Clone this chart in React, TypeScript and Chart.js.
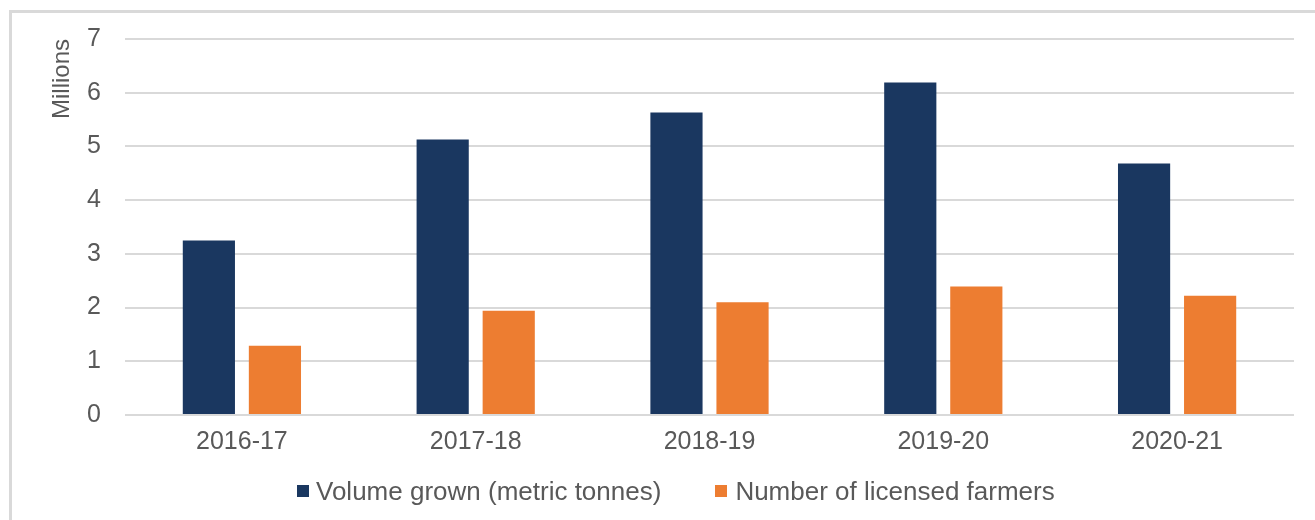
import React, { useEffect, useRef } from "react";
import { Chart, registerables } from "chart.js";

Chart.register(...registerables);

const categories = ["2016-17", "2017-18", "2018-19", "2019-20", "2020-21"];
const volumeGrown = [3.25, 5.13, 5.63, 6.19, 4.68];
const licensedFarmers = [1.29, 1.94, 2.1, 2.39, 2.22];
const seriesNames = ["Volume grown (metric tonnes)", "Number of licensed farmers"];
const seriesColors = ["#1A3760", "#ED7D31"];
const yTitle = "Millions";

const FONT = "'Liberation Sans', Arial, sans-serif";
const TEXT = "#595959";

export default function App() {
  const ref = useRef<HTMLCanvasElement | null>(null);

  useEffect(() => {
    if (!ref.current) return;
    const chart = new Chart(ref.current, {
      type: "bar",
      data: {
        labels: categories,
        datasets: [
          { label: seriesNames[0], data: volumeGrown, backgroundColor: seriesColors[0] },
          { label: seriesNames[1], data: licensedFarmers, backgroundColor: seriesColors[1] },
        ],
      },
      options: {
        animation: false,
        responsive: true,
        maintainAspectRatio: false,
        layout: { padding: { left: 43, top: 39, right: 21, bottom: 63 } },
        datasets: { bar: { categoryPercentage: 0.565, barPercentage: 0.79 } },
        plugins: {
          legend: { display: false },
          tooltip: { enabled: false },
        },
        scales: {
          x: {
            grid: { display: false, drawTicks: false },
            border: { display: false },
            ticks: { color: TEXT, padding: 12, font: { family: FONT, size: 25, lineHeight: 1.2 } },
            afterFit: (scale: any) => {
              scale.height = 42;
            },
          },
          y: {
            min: 0,
            max: 7,
            grid: { color: "#D9D9D9", lineWidth: 2, drawTicks: false },
            border: { display: false },
            ticks: { stepSize: 1, color: TEXT, padding: 24, font: { family: FONT, size: 25 } },
            title: {
              display: true,
              text: yTitle,
              align: "end",
              color: TEXT,
              padding: { top: 4, bottom: 10 },
              font: { family: FONT, size: 24, lineHeight: 1.25 },
            },
            afterFit: (scale: any) => {
              scale.width = 82;
            },
          },
        },
      },
    });
    return () => chart.destroy();
  }, []);

  const legendText: React.CSSProperties = {
    fontFamily: FONT,
    fontSize: 26,
    color: TEXT,
    lineHeight: "30px",
    whiteSpace: "nowrap",
  };
  const box = (c: string): React.CSSProperties => ({
    width: 12,
    height: 12,
    background: c,
    display: "inline-block",
  });

  return (
    <>
      <div
        style={{
          position: "fixed",
          left: 9,
          top: 10,
          width: 1330,
          height: 540,
          border: "3px solid #D9D9D9",
          boxSizing: "border-box",
        }}
      />
      <div style={{ position: "fixed", left: 0, top: 0, width: 1315, height: 520 }}>
        <canvas ref={ref} />
      </div>
      <div
        style={{
          position: "fixed",
          left: 297,
          top: 476,
          display: "flex",
          alignItems: "center",
        }}
      >
        <span style={box(seriesColors[0])} />
        <span style={{ ...legendText, marginLeft: 7 }}>{seriesNames[0]}</span>
        <span style={{ ...box(seriesColors[1]), marginLeft: 54 }} />
        <span style={{ ...legendText, marginLeft: 8 }}>{seriesNames[1]}</span>
      </div>
    </>
  );
}
